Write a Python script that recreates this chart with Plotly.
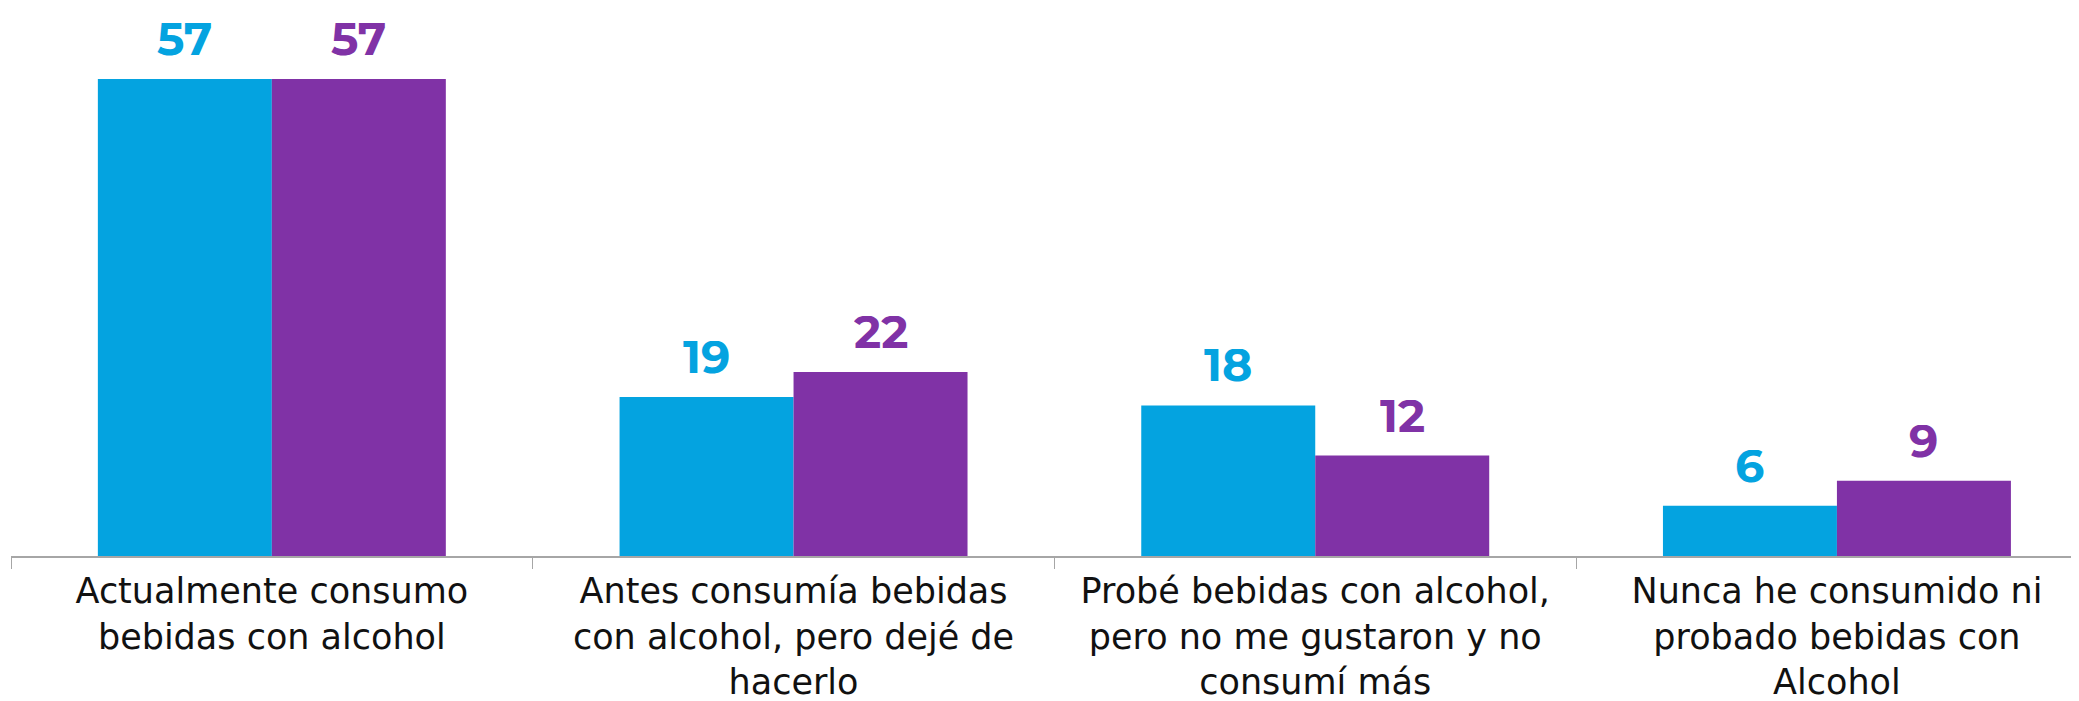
import plotly.graph_objects as go

categories = [
    "Actualmente consumo<br>bebidas con alcohol",
    "Antes consumía bebidas<br>con alcohol, pero dejé de<br>hacerlo",
    "Probé bebidas con alcohol,<br>pero no me gustaron y no<br>consumí más",
    "Nunca he consumido ni<br>probado bebidas con<br>Alcohol",
]
serie_a = [57, 19, 18, 6]
serie_b = [57, 22, 12, 9]

BLUE = "#04A3E0"
PURPLE = "#8032A6"

fig = go.Figure()
fig.add_trace(go.Bar(x=categories, y=serie_a, name="Serie A", marker=dict(color=BLUE, line_width=0)))
fig.add_trace(go.Bar(x=categories, y=serie_b, name="Serie B", marker=dict(color=PURPLE, line_width=0)))

# value labels above the bars
for vals, color, shift in [(serie_a, BLUE, -87), (serie_b, PURPLE, 87)]:
    for cat, v in zip(categories, vals):
        fig.add_annotation(
            x=cat, y=v, text=f"<b>{v}</b>", showarrow=False,
            xshift=shift, yshift=11, yanchor="bottom",
            height=44, valign="bottom", borderpad=0,
            font=dict(family="Montserrat, Lato, Open Sans, sans-serif", size=46, color=color),
        )

fig.update_layout(
    width=2079,
    height=701,
    barmode="group",
    bargap=0.333,
    bargroupgap=0,
    showlegend=False,
    plot_bgcolor="white",
    paper_bgcolor="white",
    margin=dict(l=3, r=8, t=0, b=153),
    font=dict(family="DejaVu Sans, sans-serif", size=35, color="#111111"),
)
fig.update_xaxes(
    range=[-0.5, 3.464],
    automargin=False,
    showline=True, linecolor="#A6A6A6", linewidth=2,
    ticks="outside", tickson="boundaries", ticklen=11, tickcolor="#A6A6A6",
    ticklabelstandoff=3,
    tickangle=0,
)
fig.update_yaxes(range=[0, 65.5], visible=False, showgrid=False, automargin=False)

fig.write_html("out.html")
